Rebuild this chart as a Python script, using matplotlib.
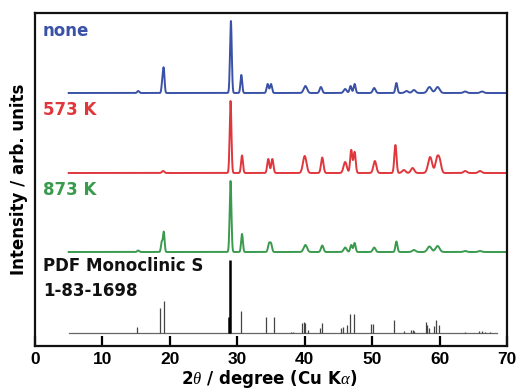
import numpy as np
import matplotlib
matplotlib.use("Agg")
import matplotlib.pyplot as plt

plt.rcParams['font.family'] = ['DejaVu Sans']
plt.rcParams['mathtext.fontset'] = 'custom'
plt.rcParams['mathtext.it'] = 'Liberation Serif:italic'

# ---- data (peak lists) ----
none_pos = [15.3, 18.9, 19.1, 29.05, 30.6, 34.5, 35.0, 40.1, 42.4, 46.0, 46.8, 47.4,
            50.3, 53.6, 55.1, 56.2, 58.5, 59.7, 63.8, 66.3]
none_int = [2, 12, 22, 72, 18, 9, 9, 7, 6, 4, 7, 9, 5, 10, 2, 3, 6, 6, 1.5, 1.5]
none_wid = [0.15, 0.12, 0.12, 0.13, 0.13, 0.15, 0.15, 0.25, 0.18, 0.22, 0.15, 0.15,
            0.2, 0.15, 0.25, 0.25, 0.3, 0.3, 0.25, 0.25]

red_pos = [19.0, 29.0, 30.7, 34.6, 35.2, 40.0, 42.6, 46.0, 46.9, 47.4, 50.4, 53.45,
           54.7, 56.0, 58.6, 59.6, 60.0, 63.8, 66.0]
red_int = [2, 72, 17.5, 14, 14, 17, 15.5, 11, 23, 21, 12, 28, 3, 5, 16, 13, 12, 2, 2]
red_wid = [0.18, 0.13, 0.14, 0.16, 0.16, 0.26, 0.18, 0.24, 0.16, 0.16, 0.22, 0.16,
           0.25, 0.25, 0.3, 0.24, 0.24, 0.25, 0.25]

green_pos = [15.3, 18.8, 19.1, 29.0, 30.7, 34.7, 35.0, 40.1, 42.6, 46.0, 46.9, 47.4,
             50.3, 53.6, 56.2, 58.5, 59.7, 63.8, 66.0]
green_int = [1.5, 10, 20, 71, 18, 8, 8, 7, 6.5, 4.5, 7, 9, 4.5, 10.5, 2, 5.5, 6, 1, 1]
green_wid = [0.15, 0.12, 0.12, 0.13, 0.13, 0.15, 0.15, 0.25, 0.18, 0.22, 0.15, 0.15,
             0.2, 0.15, 0.25, 0.3, 0.3, 0.25, 0.25]

pdf_pos = [15.2, 18.6, 19.1, 28.7, 28.9, 30.6, 34.3, 35.4, 37.9, 38.3, 39.6, 39.9, 40.1,
           40.5, 42.3, 42.5, 45.4, 45.7, 46.2, 46.7, 47.3, 49.9, 50.2, 53.2, 54.7, 55.8,
           56.0, 56.2, 58.0, 58.2, 58.4, 59.1, 59.4, 59.9, 63.7, 65.9, 66.3, 66.7, 67.5]
pdf_int = [5.7, 24.7, 32, 16, 73, 22, 15.7, 15.7, 1.5, 1, 10, 11, 10, 3, 5, 9.7, 5, 6, 8,
           19, 19, 8.7, 8.7, 13, 2, 3, 3, 2, 11, 8, 5, 7, 13, 8, 1, 2, 2, 1.5, 1]

labels = ["none", "573 K", "873 K"]
xticks = [0, 10, 20, 30, 40, 50, 60, 70]

# ---- layout ----
offsets = [253, 173, 94]
pdf_base = 13
colors = ["#3a52a6", "#e0373d", "#3a9a4e"]
two_theta = np.arange(5.0, 70.001, 0.01)


def pattern(pos, inten, wid):
    y = np.zeros_like(two_theta)
    for p, h, w in zip(pos, inten, wid):
        y += h * np.exp(-0.5 * ((two_theta - p) / w) ** 2)
    return y


fig = plt.figure(figsize=(5.19, 3.89), dpi=100)
ax = fig.add_axes([35 / 519, 1 - 346 / 389, 472 / 519, 333 / 389])

series = [(none_pos, none_int, none_wid), (red_pos, red_int, red_wid),
          (green_pos, green_int, green_wid)]
for (p, h, w), off, c in zip(series, offsets, colors):
    ax.plot(two_theta, pattern(p, h, w) + off, color=c, lw=1.4, solid_joinstyle='round')

# PDF reference sticks
ax.plot([5, 68.5], [pdf_base, pdf_base], color="#666666", lw=0.9)
for p, h in zip(pdf_pos, pdf_int):
    strong = h > 40 or p == 28.7
    ax.vlines(p, pdf_base, pdf_base + h, color="black" if strong else "#444444",
              lw=1.8 if strong else 0.9)

# labels
for lab, c, yb in zip(labels, colors, [36, 115, 195]):
    fig.text(43 / 519, 1 - yb / 389, lab, color=c, fontsize=12, fontweight='bold',
             va='baseline')
fig.text(43 / 519, 1 - 271 / 389, "PDF Monoclinic S", color='#111111', fontsize=12,
         fontweight='bold', va='baseline')
fig.text(43 / 519, 1 - 296.5 / 389, "1-83-1698", color='#111111', fontsize=12,
         fontweight='bold', va='baseline')

ax.set_xlim(0, 70)
ax.set_ylim(0, 333)
ax.set_xticks(xticks)
ax.set_xticklabels([str(t) for t in xticks], fontsize=12.5, fontweight='bold',
                   family='Liberation Sans')
ax.set_yticks([])
ax.tick_params(axis='x', direction='in', length=7, width=1.6, pad=4, top=False)
for s in ax.spines.values():
    s.set_linewidth(1.6)
    s.set_color('#111111')

fig.text(269 / 519, 1 - 384 / 389, r"2$\theta$ / degree (Cu K$\alpha$)", fontsize=12,
         fontweight='bold', ha='center', va='baseline')
ax.set_ylabel("Intensity / arb. units", fontsize=12, fontweight='bold', labelpad=5)

fig.savefig("out.png", dpi=100)
